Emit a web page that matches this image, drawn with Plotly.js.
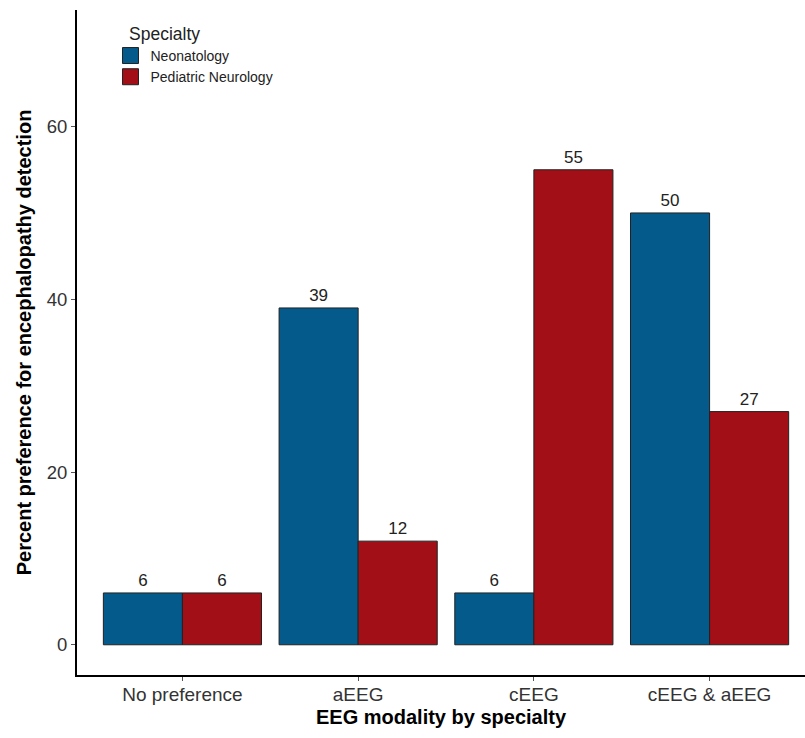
<!DOCTYPE html>
<html>
<head>
<meta charset="utf-8">
<script src="https://cdn.plot.ly/plotly-3.0.1.min.js"></script>
<style>body{margin:0;padding:0;background:#fff;}#chart{width:805px;height:738px;}</style>
</head>
<body>
<div id="chart"></div>
<script>
const categories = ["No preference", "aEEG", "cEEG", "cEEG & aEEG"];
const neonatology = [6, 39, 6, 50];
const pediatricNeurology = [6, 12, 55, 27];
const yTicks = [0, 20, 40, 60];
const legendTitle = "Specialty";

const font = "Liberation Sans, Arial, sans-serif";
const xIdx = categories.map((c, i) => i + 1);
const blue = "#055A8C";
const red = "#A30F17";

const traces = [
  {type: "bar", name: "Neonatology", x: xIdx, y: neonatology, showlegend: false,
   marker: {color: blue, line: {color: "#222", width: 1}},
   text: neonatology.map(String), textposition: "outside", cliponaxis: false,
   textfont: {family: font, size: 17, color: "#222"}},
  {type: "bar", name: "Pediatric Neurology", x: xIdx, y: pediatricNeurology, showlegend: false,
   marker: {color: red, line: {color: "#222", width: 1}},
   text: pediatricNeurology.map(String), textposition: "outside", cliponaxis: false,
   textfont: {family: font, size: 17, color: "#222"}},
  {type: "scatter", mode: "markers", name: "Neonatology", x: [null], y: [null],
   marker: {symbol: "square", size: 18, color: blue, line: {color: "#222", width: 1}}},
  {type: "scatter", mode: "markers", name: "Pediatric Neurology", x: [null], y: [null],
   marker: {symbol: "square", size: 18, color: red, line: {color: "#222", width: 1}}}
];

const layout = {
  width: 805, height: 738,
  margin: {l: 77, r: 0, t: 10, b: 63},
  paper_bgcolor: "#fff", plot_bgcolor: "#fff",
  barmode: "group", bargap: 0.1, bargroupgap: 0,
  font: {family: font, color: "#333"},
  showlegend: true,
  legend: {x: 0.046, y: 0.955, xanchor: "left", yanchor: "top",
    font: {size: 14, color: "#222"}, bgcolor: "rgba(0,0,0,0)", tracegroupgap: 0,
    itemwidth: 30},
  annotations: [{text: legendTitle, xref: "paper", yref: "paper", x: 0.0687, y: 0.964,
    xanchor: "left", yanchor: "middle", showarrow: false,
    font: {family: font, size: 17.5, color: "#222"}}],
  xaxis: {range: [0.4, 4.543], tickvals: xIdx, ticktext: categories,
    showgrid: false, zeroline: false, showline: true, linecolor: "#000", linewidth: 2,
    ticks: "outside", ticklen: 4, tickcolor: "#555", tickfont: {size: 19, color: "#333"},
    ticklabelstandoff: -3,
    title: {text: "<b>EEG modality by specialty</b>", font: {size: 20, color: "#000"}, standoff: 6}},
  yaxis: {range: [-3.5, 73.5], tickvals: yTicks, ticktext: yTicks.map(String),
    showgrid: false, zeroline: false, showline: true, linecolor: "#000", linewidth: 2,
    ticks: "outside", ticklen: 4, tickcolor: "#555", tickfont: {size: 18.5, color: "#333"},
    title: {text: "<b>Percent preference for encephalopathy detection</b>", font: {size: 20, color: "#000"}, standoff: 10}}
};

Plotly.newPlot("chart", traces, layout, {displayModeBar: false});
</script>
</body>
</html>
